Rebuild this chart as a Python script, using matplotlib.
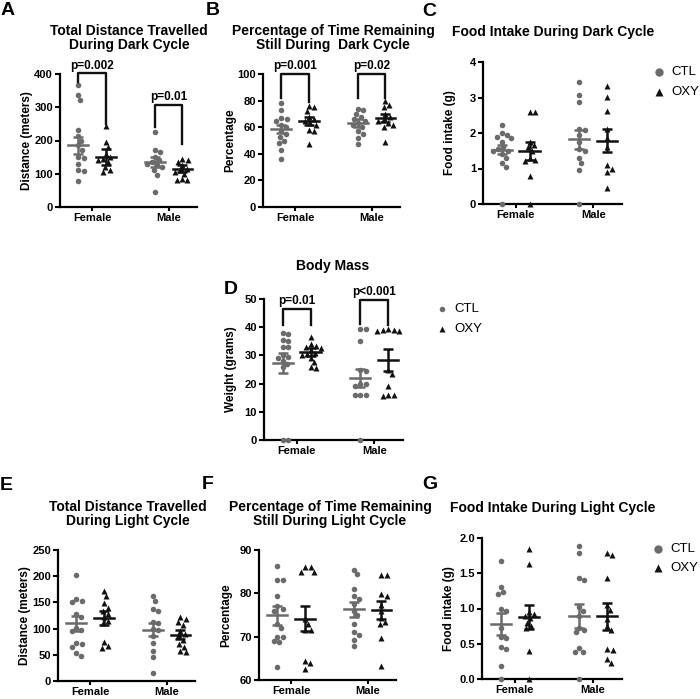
import matplotlib
matplotlib.use("Agg")
import matplotlib.pyplot as plt
from matplotlib.lines import Line2D
import numpy as np

plt.rcParams['font.family'] = ['Liberation Sans', 'DejaVu Sans']

W, H = 700, 699
GRAY = '#6b6b6b'
BLACK = '#111111'
groups = ['Female', 'Male']

# ---- data: [female CTL, female OXY, male CTL, male OXY]
a_vals = [[367, 338, 322, 232, 215, 200, 185, 172, 150, 148, 128, 110, 108, 78],
          [245, 195, 180, 160, 150, 145, 140, 135, 120, 110, 105],
          [225, 170, 165, 150, 140, 135, 130, 125, 120, 110, 95, 45],
          [145, 140, 135, 125, 115, 110, 105, 100, 85, 80, 80]]
a_mean = [185, 150, 135, 115]
a_sem = [25, 23, 15, 10]

b_vals = [[78, 73, 67, 66, 65, 62, 60, 57, 55, 53, 50, 48, 43, 36],
          [76, 75, 72, 68, 66, 65, 63, 62, 58, 57, 47],
          [74, 73, 70, 68, 66, 65, 63, 62, 60, 57, 55, 52, 47],
          [80, 77, 75, 70, 68, 66, 65, 63, 62, 60, 49]]
b_mean = [59, 65, 63, 67]
b_sem = [3, 3, 3, 3]

c_vals = [[2.22, 2.0, 1.95, 1.9, 1.85, 1.75, 1.6, 1.55, 1.5, 1.5, 1.4, 1.3, 1.15, 1.05, 0],
          [2.6, 2.6, 1.75, 1.65, 1.6, 1.5, 1.3, 1.25, 1.2, 0.8, 0],
          [3.45, 3.08, 2.88, 2.12, 2.08, 1.95, 1.75, 1.55, 1.5, 1.3, 1.15, 0.95, 0],
          [3.33, 3.02, 2.62, 2.1, 1.85, 1.6, 1.1, 1.0, 0.9, 0.45]]
c_mean = [1.53, 1.5, 1.82, 1.78]
c_sem = [0.12, 0.26, 0.26, 0.32]

d_vals = [[38, 37.5, 35.5, 35, 33, 33, 30, 29.5, 29, 28, 27, 26, 0, 0],
          [36.5, 34, 33.5, 33, 32.5, 32, 31, 30.5, 30, 29, 27.5, 26, 25.5],
          [39.5, 39.5, 35, 25, 24.5, 20, 20, 19, 16, 16, 16, 0],
          [39.5, 39, 38.5, 38.5, 39, 25, 23.5, 19, 16, 16, 15.5]]
d_mean = [27.3, 31.2, 22, 28.4]
d_sem = [3.5, 1.5, 3.2, 3.8]

e_vals = [[202, 156, 152, 150, 128, 122, 102, 97, 95, 72, 70, 65, 53, 47],
          [172, 162, 148, 140, 133, 128, 122, 115, 110, 75, 67, 63],
          [163, 153, 137, 133, 112, 110, 100, 97, 85, 72, 57, 45, 15],
          [122, 118, 112, 107, 95, 90, 85, 78, 70, 65, 57, 55]]
e_mean = [110, 120, 98, 88]
e_sem = [15, 13, 12.5, 8.5]

f_vals = [[86.3, 83, 83, 79.5, 77, 76.5, 76, 73, 72, 70, 70, 69, 68.8, 63],
          [86, 86, 85, 85, 74, 73, 71.5, 71.5, 64.5, 64, 62.5],
          [85.5, 84.5, 81, 79.3, 78.8, 77.5, 76, 75, 73, 71, 70.5, 69.2, 67.8],
          [84.3, 84.3, 79.5, 79.8, 77.3, 76, 74.3, 73.3, 73, 69.7, 63.3]]
f_mean = [74.9, 74.1, 76.3, 76.2]
f_sem = [2.1, 2.9, 1.7, 2.1]

g_vals = [[1.67, 1.3, 1.23, 1.2, 1.0, 0.97, 0.73, 0.6, 0.58, 0.45, 0.43, 0.18, 0],
          [1.85, 1.63, 0.95, 0.92, 0.9, 0.87, 0.8, 0.75, 0.72, 0.4, 0],
          [1.88, 1.79, 1.43, 1.41, 1.02, 0.97, 0.9, 0.73, 0.7, 0.66, 0.44, 0.38, 0.38, 0],
          [1.76, 1.79, 1.43, 1.05, 0.98, 0.85, 0.75, 0.7, 0.41, 0.42, 0.29, 0.23]]
g_mean = [0.78, 0.88, 0.9, 0.89]
g_sem = [0.15, 0.17, 0.17, 0.19]

# significance brackets: (group index, top, left leg end, right leg end, label)
a_sig = [(0, 402, 375, 250, 'p=0.002'), (1, 308, 240, 190, 'p=0.01')]
b_sig = [(0, 100, 82, 79, 'p=0.001'), (1, 100, 82, 82, 'p=0.02')]
d_sig = [(0, 46.6, 40.7, 40.7, 'p=0.01'), (1, 49.8, 41.3, 40.7, 'p<0.001')]

# panel layout in pixels: left, top, right, bottom
panels = [
    dict(letter='A', rect=(60, 74, 197, 207), vals=a_vals, mean=a_mean, sem=a_sem, sig=a_sig,
         ylim=(0, 400), yticks=[0, 100, 200, 300, 400], ylabel='Distance (meters)',
         title='Total Distance Travelled\nDuring Dark Cycle', tpos=(129, 38), lpos=(1, 2), legend=None),
    dict(letter='B', rect=(263, 74, 400, 207), vals=b_vals, mean=b_mean, sem=b_sem, sig=b_sig,
         ylim=(0, 100), yticks=[0, 20, 40, 60, 80, 100], ylabel='Percentage',
         title='Percentage of Time Remaining\nStill During  Dark Cycle', tpos=(333, 38), lpos=(206, 2), legend=None),
    dict(letter='C', rect=(483, 62, 622, 204), vals=c_vals, mean=c_mean, sem=c_sem, sig=[],
         ylim=(0, 4), yticks=[0, 1, 2, 3, 4], ylabel='Food intake (g)',
         title='Food Intake During Dark Cycle', tpos=(553, 32), lpos=(422, 3), legend=(659, 72, 20, 6)),
    dict(letter='D', rect=(264, 299, 403, 440), vals=d_vals, mean=d_mean, sem=d_sem, sig=d_sig,
         ylim=(0, 50), yticks=[0, 10, 20, 30, 40, 50], ylabel='Weight (grams)',
         title='Body Mass', tpos=(333, 266), lpos=(224, 281), legend=(442, 309, 20, 4)),
    dict(letter='E', rect=(58, 550, 195, 681), vals=e_vals, mean=e_mean, sem=e_sem, sig=[],
         ylim=(0, 250), yticks=[0, 50, 100, 150, 200, 250], ylabel='Distance (meters)',
         title='Total Distance Travelled\nDuring Light Cycle', tpos=(128, 514), lpos=(0, 477), legend=None),
    dict(letter='F', rect=(259, 550, 396, 680), vals=f_vals, mean=f_mean, sem=f_sem, sig=[],
         ylim=(60, 90), yticks=[60, 70, 80, 90], ylabel='Percentage',
         title='Percentage of Time Remaining\nStill During Light Cycle', tpos=(330, 514), lpos=(202, 476), legend=None),
    dict(letter='G', rect=(482, 538, 622, 679), vals=g_vals, mean=g_mean, sem=g_sem, sig=[],
         ylim=(0, 2.0), yticks=[0.0, 0.5, 1.0, 1.5, 2.0], ylabel='Food intake (g)',
         title='Food Intake During Light Cycle', tpos=(553, 508), lpos=(422, 476), legend=(658, 549, 19, 6)),
]

XLIM = (-0.42, 1.37)
OFF = 0.18


def swarm(values, ppu_y, ppu_x, d=5.6):
    # simple beeswarm: offsets in data units, deterministic
    ys = np.asarray(values, float) * ppu_y
    order = np.argsort(-ys)
    placed = []
    xs = np.zeros(len(ys))
    for i in order:
        y = ys[i]
        cands = [0.0]
        for (px, py) in placed:
            dy = abs(py - y)
            if dy < d:
                dx = np.sqrt(d * d - dy * dy)
                cands += [px + dx, px - dx]
        cands.sort(key=lambda c: (abs(c), -c))
        for c in cands:
            if all((c - px) ** 2 + (y - py) ** 2 >= d * d - 1e-6 for px, py in placed):
                xs[i] = c
                break
        placed.append((xs[i], y))
    return xs / ppu_x


fig = plt.figure(figsize=(W / 100, H / 100), dpi=100)

for p in panels:
    l, t, r, b = p['rect']
    ax = fig.add_axes([l / W, 1 - b / H, (r - l) / W, (b - t) / H])
    ax.set_xlim(*XLIM)
    ax.set_ylim(*p['ylim'])
    ppu_y = (b - t) / (p['ylim'][1] - p['ylim'][0])
    ppu_x = (r - l) / (XLIM[1] - XLIM[0])
    for k, vals in enumerate(p['vals']):
        gi, is_oxy = k // 2, k % 2
        cx = gi + (OFF if is_oxy else -OFF)
        col = BLACK if is_oxy else GRAY
        mk = '^' if is_oxy else 'o'
        yv = np.asarray(vals, float)
        xo = swarm(yv - p['ylim'][0], ppu_y, ppu_x)
        ax.plot(cx + xo, yv, ls='none', marker=mk, ms=4.0, color=col, mec='none', clip_on=False, zorder=3)
        m, s = p['mean'][k], p['sem'][k]
        ax.plot([cx - 0.13, cx + 0.13], [m, m], color=col, lw=1.8, zorder=4)
        ax.errorbar([cx], [m], yerr=[s], color=col, lw=1.8, capsize=3.5, capthick=1.8, zorder=4)
    for gi, top, lo, ro, lab in p['sig']:
        x0, x1 = gi - OFF, gi + OFF
        ax.plot([x0, x0, x1, x1], [lo, top, top, ro], color=BLACK, lw=1.7, clip_on=False, zorder=5)
        ax.text(gi, top + (p['ylim'][1] - p['ylim'][0]) * 0.012, lab, ha='center', va='bottom',
                fontsize=8.5, fontweight='bold')
    ax.set_xticks([0, 1])
    ax.set_xticklabels(groups, fontsize=8, fontweight='bold')
    ax.set_yticks(p['yticks'])
    if p['letter'] == 'G':
        ax.set_yticklabels(['%.1f' % v for v in p['yticks']])
    for lab in ax.get_yticklabels():
        lab.set_fontsize(8)
        lab.set_fontweight('bold')
    ax.tick_params(width=1.5, length=3.5, pad=1.5)
    ax.tick_params(axis='x', length=3, pad=1)
    for sp in ['top', 'right']:
        ax.spines[sp].set_visible(False)
    for sp in ['left', 'bottom']:
        ax.spines[sp].set_linewidth(1.6)
    ax.set_ylabel(p['ylabel'], fontsize=8.5, fontweight='bold')
    ax.yaxis.set_label_coords(-27 / (r - l), 0.5)

    fig.text(p['tpos'][0] / W, 1 - p['tpos'][1] / H, p['title'], ha='center', va='center',
             fontsize=10, fontweight='bold', linespacing=1.05)
    fig.text(p['lpos'][0] / W, 1 - p['lpos'][1] / H, p['letter'], ha='left', va='top',
             fontsize=14, fontweight='bold')

    if p['legend']:
        lx, ly, gap, ms = p['legend']
        for j, (mk, name) in enumerate([('o', 'CTL'), ('^', 'OXY')]):
            col = GRAY if mk == 'o' else BLACK
            yy = 1 - (ly + j * gap) / H
            fig.add_artist(Line2D([lx / W], [yy], marker=mk, ms=ms, color=col, mec='none', ls='none'))
            fig.text((lx + 12) / W, yy, name, ha='left', va='center', fontsize=9.5)

fig.savefig('out.png', dpi=100)
